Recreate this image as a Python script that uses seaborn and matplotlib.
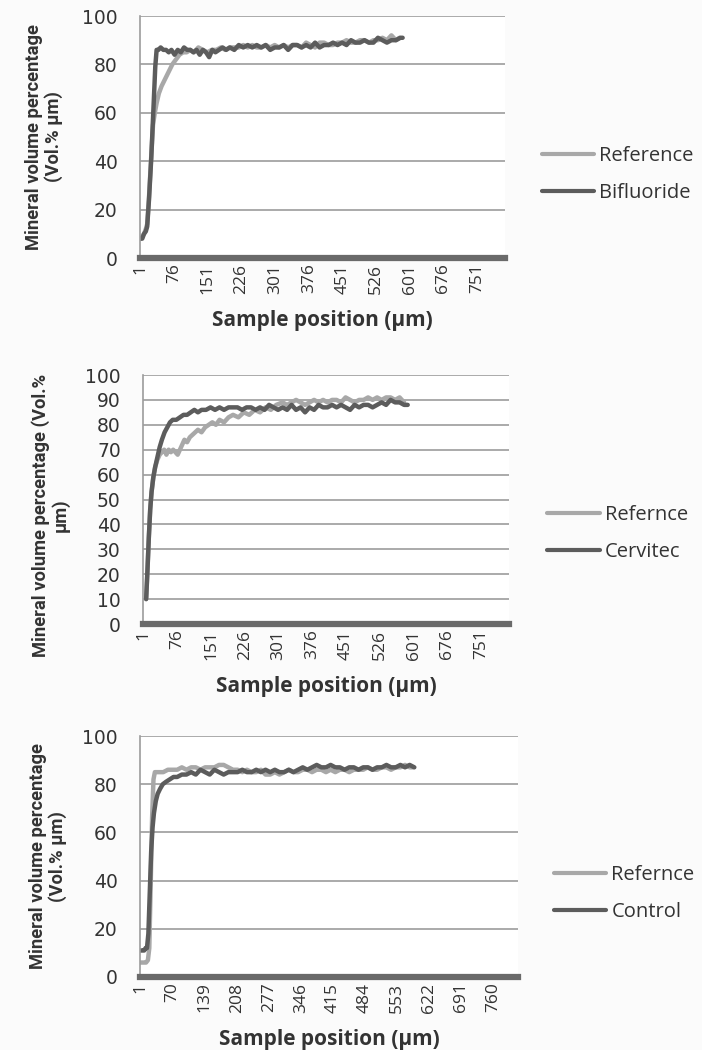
import matplotlib
matplotlib.use("Agg")
import numpy as np
import pandas as pd
import matplotlib.pyplot as plt
import seaborn as sns
from matplotlib.lines import Line2D

# ---- panel A: Reference vs Bifluoride ----
bif_pos = [1, 5, 9, 13, 16, 20, 25, 30, 34, 37,
           41, 46, 52, 58, 64, 70, 77, 84, 91, 98,
           105, 112, 119, 126, 133, 140, 147, 154, 161, 168,
           176, 184, 192, 200,
           210, 220, 230, 240, 250, 260, 270, 280, 290, 300,
           310, 320, 330, 340, 350, 360, 370, 380, 390, 400,
           410, 420, 430, 440, 450, 460, 470, 480, 490, 500,
           510, 520, 530, 540, 550, 560, 570, 580, 585]
bif_val = [8, 8, 10, 11, 13, 24, 41, 62, 79, 86,
           86, 87, 86, 86, 85, 86, 84, 86, 85, 87,
           86, 86, 85, 86, 84, 86, 85, 83, 86, 85,
           86, 87, 86, 87,
           86, 88, 87, 88, 87, 88, 87, 88, 86, 87,
           87, 88, 86, 88, 88, 87, 88, 87, 89, 87,
           88, 88, 89, 88, 89, 88, 90, 89, 89, 90,
           89, 89, 91, 90, 89, 90, 90, 91, 91]
refA_pos = [1, 5, 9, 13, 16, 20, 25, 29,
            33, 37, 42, 48, 56, 64, 72, 80, 88, 96,
            104, 112, 120, 130, 140, 150, 160, 170, 180, 190, 200,
            210, 220, 230, 240, 250, 260, 270, 280, 290, 300,
            310, 320, 330, 340, 350, 360, 370, 380, 390, 400,
            410, 420, 430, 440, 450, 460, 470, 480, 490, 500,
            510, 520, 530, 540, 550, 560, 570, 578]
refA_val = [8, 9, 10, 12, 14, 25, 42, 55,
            60, 64, 68, 71, 74, 77, 80, 82, 84, 85,
            85, 86, 85, 87, 86, 85, 86, 86, 87, 86, 87,
            87, 87, 88, 87, 88, 87, 87, 88, 87, 88,
            87, 88, 87, 88, 88, 87, 89, 88, 87, 89,
            89, 88, 88, 89, 89, 90, 89, 89, 90, 90,
            89, 90, 90, 91, 90, 92, 90, 91]

# ---- panel B: Refernce vs Cervitec ----
cer_pos = [7, 10, 13, 16, 19, 23, 27, 32, 37, 42,
           48, 54, 60, 66, 74, 82, 90, 98, 106, 114,
           122, 130, 140, 150, 160, 170, 180, 190, 200,
           210, 220, 230, 240, 250, 260, 270, 280, 290, 300,
           310, 320, 330, 340, 350, 360, 370, 380, 390, 400,
           410, 420, 430, 440, 450, 460, 470, 480, 490, 500,
           510, 520, 530, 540, 550, 560, 570, 580, 588]
cer_val = [10, 22, 35, 46, 53, 59, 63, 67, 71, 74,
           77, 79, 81, 82, 82, 83, 84, 84, 85, 86,
           85, 86, 86, 87, 86, 87, 86, 87, 87,
           87, 86, 87, 87, 86, 87, 86, 88, 87, 86,
           87, 86, 88, 86, 87, 85, 87, 86, 88, 87,
           87, 88, 87, 88, 87, 86, 88, 87, 88, 88,
           87, 88, 89, 88, 90, 89, 89, 88, 88]
refB_pos = [7, 10, 13, 16, 19, 23, 27, 32, 37, 42,
            47, 52, 57, 62, 67, 72, 77, 82, 87, 92,
            98, 104, 110, 116, 122, 130, 138, 146, 154, 162,
            170, 180, 190, 200, 212, 224, 236, 248, 260, 272,
            284, 296,
            310, 320, 330, 340, 350, 360, 370, 380, 390, 400,
            410, 420, 430, 440, 450, 460, 470, 480, 490, 500,
            510, 520, 530, 540, 550, 560, 570, 580]
refB_val = [10, 22, 35, 46, 53, 59, 63, 66, 68, 69,
            70, 68, 70, 69, 70, 69, 68, 70, 72, 74,
            73, 75, 76, 77, 78, 77, 79, 80, 81, 80,
            82, 81, 83, 84, 83, 85, 84, 86, 85, 87,
            86, 88,
            89, 88, 89, 90, 89, 88, 89, 90, 89, 90,
            89, 90, 90, 89, 91, 90, 89, 90, 90, 91,
            90, 91, 90, 91, 91, 90, 91, 89]

# ---- panel C: Refernce vs Control ----
con_pos = [1, 5, 9, 12, 15, 18, 21, 24, 27, 30,
           34, 38, 43, 49, 56, 64, 72, 80, 90, 100,
           110, 120, 130, 140, 150, 160, 170, 180, 190, 200,
           210, 220, 230, 240, 250, 260, 270, 280, 290, 300,
           310, 320, 330, 340, 350, 360, 370, 380, 390, 400,
           410, 420, 430, 440, 450, 460, 470, 480, 490, 500,
           510, 520, 530, 540, 550, 560, 570, 580, 590]
con_val = [11, 11, 11, 12, 12, 18, 35, 52, 62, 68,
           73, 76, 78, 80, 81, 82, 83, 83, 84, 84,
           85, 84, 86, 85, 84, 86, 85, 84, 85, 85,
           85, 86, 85, 85, 86, 85, 86, 85, 86, 85,
           85, 86, 85, 86, 87, 86, 87, 88, 87, 87,
           88, 87, 87, 86, 87, 87, 86, 87, 87, 86,
           87, 87, 88, 87, 87, 88, 87, 88, 87]
refC_pos = [1, 5, 9, 13, 17, 20, 23, 26, 29, 32,
            40, 50, 60, 70, 80, 90, 100, 110, 120, 130,
            140, 150, 160, 170, 180, 190, 200,
            210, 220, 230, 240, 250, 260, 270, 280, 290, 300,
            310, 320, 330, 340, 350, 360, 370, 380, 390, 400,
            410, 420, 430, 440, 450, 460, 470, 480, 490, 500,
            510, 520, 530, 540, 550, 560, 570, 580, 587]
refC_val = [6, 6, 6, 6, 7, 12, 38, 66, 82, 85,
            85, 85, 86, 86, 86, 87, 86, 87, 87, 86,
            87, 87, 87, 88, 88, 87, 86,
            86, 85, 86, 85, 85, 86, 84, 84, 85, 84,
            85, 86, 85, 85, 86, 86, 85, 86, 86, 85,
            86, 85, 86, 86, 85, 86, 86, 86, 87, 86,
            86, 87, 87, 86, 87, 87, 88, 87, 87]

ticks_ab = [1, 76, 151, 226, 301, 376, 451, 526, 601, 676, 751]
ticks_c = [1, 70, 139, 208, 277, 346, 415, 484, 553, 622, 691, 760]

LIGHT = "#a8a8a8"
DARK = "#5c5c5c"
GRID = "#9c9c9c"
TXT = "#333333"
NARROW = ["Liberation Sans Narrow", "Roboto"]

sns.set_style("white")
plt.rcParams["font.family"] = ["DejaVu Sans"]

fig = plt.figure(figsize=(7.02, 10.5), dpi=100)
fig.patch.set_facecolor("#fbfbfb")
W, H = 702.0, 1050.0


def make_ax(left, right, top, bottom):
    return fig.add_axes([left / W, 1 - bottom / H, (right - left) / W, (bottom - top) / H])


def draw_panel(ax, ref_pos, ref_val, ref_name, trt_pos, trt_val, trt_name,
               yticks, xticks, ylabel, lab_x, lab_y, leg_x, leg_y):
    df = pd.concat([
        pd.DataFrame({"pos": ref_pos, "val": ref_val, "series": ref_name}),
        pd.DataFrame({"pos": trt_pos, "val": trt_val, "series": trt_name}),
    ], ignore_index=True)
    sns.lineplot(data=df, x="pos", y="val", hue="series",
                 palette={ref_name: LIGHT, trt_name: DARK},
                 estimator=None, sort=False, lw=3.2, ax=ax, legend=False)
    ax.set_facecolor("white")
    ax.set_xlim(0, 813)
    ax.set_ylim(0, 100)
    ax.set_yticks(yticks)
    ax.set_xticks(xticks)
    ax.set_xticklabels([str(t) for t in xticks], rotation=90,
                       fontfamily="Open Sans", fontsize=12.5)
    ax.tick_params(axis="x", length=0, pad=4, colors=TXT)
    ax.tick_params(axis="y", length=7, width=1, color=GRID, pad=9,
                   labelsize=13.5, labelcolor=TXT, direction="out")
    ax.yaxis.grid(True, color=GRID, lw=1.2)
    ax.xaxis.grid(False)
    for s in ["top", "right"]:
        ax.spines[s].set_visible(False)
    ax.spines["left"].set_color(GRID)
    ax.spines["left"].set_linewidth(1.2)
    ax.spines["bottom"].set_color("#6a6a6a")
    ax.spines["bottom"].set_linewidth(4.5)
    ax.spines["bottom"].set_zorder(5)
    ax.set_xlabel("Sample position (µm)", fontfamily="Open Sans",
                  fontweight="bold", fontsize=15, color=TXT, labelpad=12)
    ax.set_ylabel(ylabel, fontfamily=NARROW, fontweight="bold",
                  fontsize=13.2, color=TXT, linespacing=1.1)
    ax.yaxis.set_label_coords(lab_x, lab_y)
    handles = [Line2D([], [], color=LIGHT, lw=3), Line2D([], [], color=DARK, lw=3)]
    ax.legend(handles, [ref_name, trt_name], loc="center left",
              bbox_to_anchor=(leg_x, leg_y), frameon=False, borderpad=0,
              borderaxespad=0, handlelength=2.6, handletextpad=0.25,
              labelspacing=0.85, prop={"family": "Open Sans", "size": 14.5},
              labelcolor=TXT)


axA = make_ax(140, 505, 16, 258)
draw_panel(axA, refA_pos, refA_val, "Reference", bif_pos, bif_val, "Bifluoride",
           [0, 20, 40, 60, 80, 100], ticks_ab,
           "Mineral volume percentage\n(Vol.% µm)", -0.21, 0.5, 1.1, 0.345)

axB = make_ax(143, 509, 375, 624)
draw_panel(axB, refB_pos, refB_val, "Refernce", cer_pos, cer_val, "Cervitec",
           list(range(0, 101, 10)), ticks_ab,
           "Mineral volume percentage (Vol.%\nµm)", -0.2, 0.438, 1.105, 0.362)

axC = make_ax(140, 518, 736, 977)
draw_panel(axC, refC_pos, refC_val, "Refernce", con_pos, con_val, "Control",
           [0, 20, 40, 60, 80, 100], ticks_c,
           "Mineral volume percentage\n(Vol.% µm)", -0.193, 0.5, 1.095, 0.347)

fig.savefig("out.png", dpi=100, facecolor=fig.get_facecolor())
